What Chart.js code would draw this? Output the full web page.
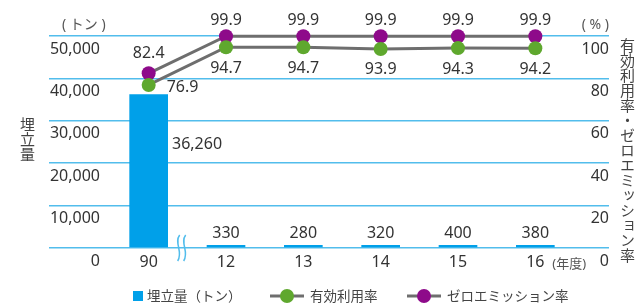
<!DOCTYPE html>
<html>
<head>
<meta charset="utf-8">
<script src="https://cdn.jsdelivr.net/npm/chart.js@4/dist/chart.umd.min.js"></script>
<style>
body { margin: 0; background: #fff; }
#wrap { position: relative; width: 637px; height: 307px; }
.vt { position: absolute; writing-mode: vertical-rl; font-family: "Noto Sans CJK JP"; font-size: 15px; line-height: 1; color: #444; }
</style>
</head>
<body>
<div id="wrap">
    <canvas id="chart" width="637" height="307"></canvas>
    <div class="vt" style="left:20px; top:117px;">埋立量</div>
    <div class="vt" style="left:620px; top:38px;">有効利用率・ゼロエミッション率</div>
</div>
<script>
var years = ['90', '12', '13', '14', '15', '16'];
var landfill = [36260, 330, 280, 320, 400, 380];
var effectiveRate = [76.9, 94.7, 94.7, 93.9, 94.3, 94.2];
var zeroEmission = [82.4, 99.9, 99.9, 99.9, 99.9, 99.9];
var tonTicks = [0, 10000, 20000, 30000, 40000, 50000];
var rateTicks = [0, 20, 40, 60, 80, 100];

var FONT = '"Noto Sans", "Noto Sans CJK JP", sans-serif';
var gridColor = '#52BDEC';
var barColor = '#00A0E9';
var lineColor = '#6E6E6E';
var greenColor = '#5FA82E';
var purpleColor = '#8E0A8A';

Chart.defaults.font.family = FONT;

// value labels next to bars and points
var valueLabels = {
    id: 'valueLabels',
    afterDatasetsDraw: function (chart) {
        var ctx = chart.ctx;
        ctx.save();
        ctx.font = '16px ' + FONT;
        ctx.fillStyle = '#333';
        ctx.textBaseline = 'middle';
        chart.getDatasetMeta(0).data.forEach(function (bar, i) {
            var txt = landfill[i].toLocaleString('en-US');
            if (i === 0) {
                ctx.textAlign = 'left';
                ctx.fillText(txt, bar.x + bar.width / 2 + 4, bar.y + 50);
            } else {
                ctx.textAlign = 'center';
                ctx.fillText(txt, bar.x, bar.y - 12);
            }
        });
        chart.getDatasetMeta(2).data.forEach(function (pt, i) {
            ctx.textAlign = 'center';
            ctx.fillText(zeroEmission[i].toFixed(1), pt.x, pt.y - (i === 0 ? 20 : 16));
        });
        chart.getDatasetMeta(1).data.forEach(function (pt, i) {
            if (i === 0) {
                ctx.textAlign = 'left';
                ctx.fillText(effectiveRate[i].toFixed(1), pt.x + 18, pt.y + 2);
            } else {
                ctx.textAlign = 'center';
                ctx.fillText(effectiveRate[i].toFixed(1), pt.x, pt.y + 21);
            }
        });
        ctx.restore();
    }
};

// units, break mark and legend
var extras = {
    id: 'extras',
    afterDraw: function (chart) {
        var ctx = chart.ctx;
        var xs = chart.scales.x;
        ctx.save();

        ctx.fillStyle = '#555';
        ctx.font = '14px ' + FONT;
        ctx.textBaseline = 'middle';
        ctx.textAlign = 'left';
        ctx.fillText('( トン )', 62, 25);
        ctx.textAlign = 'right';
        ctx.fillText('( % )', 609, 25);
        ctx.font = '13px ' + FONT;
        ctx.textAlign = 'left';
        ctx.fillText('(年度)', xs.getPixelForValue(5) + 17, 264);

        // break mark between 90 and 12
        var bx = xs.getPixelForValue(0) + 30;
        ctx.strokeStyle = gridColor;
        ctx.lineWidth = 1.5;
        [0, 6].forEach(function (dx) {
            ctx.beginPath();
            ctx.moveTo(bx + dx + 1, 235);
            ctx.bezierCurveTo(bx + dx - 5, 243, bx + dx + 5, 252, bx + dx - 1, 261);
            ctx.stroke();
        });

        // legend
        var ly = 296;
        ctx.font = '13.5px "Noto Sans CJK JP", sans-serif';
        ctx.textAlign = 'left';
        ctx.fillStyle = barColor;
        ctx.fillRect(133, ly - 5, 10, 10);
        ctx.fillStyle = '#444';
        ctx.fillText(chart.data.datasets[0].label, 147, ly);

        [[1, 270, greenColor], [2, 407, purpleColor]].forEach(function (it) {
            var x = it[1];
            ctx.strokeStyle = lineColor;
            ctx.lineWidth = 3;
            ctx.beginPath();
            ctx.moveTo(x, ly);
            ctx.lineTo(x + 34, ly);
            ctx.stroke();
            ctx.fillStyle = it[2];
            ctx.beginPath();
            ctx.arc(x + 17, ly, 7, 0, Math.PI * 2);
            ctx.fill();
            ctx.fillStyle = '#444';
            ctx.fillText(chart.data.datasets[it[0]].label, x + 40, ly);
        });
        ctx.restore();
    }
};

new Chart(document.getElementById('chart'), {
    type: 'bar',
    data: {
        labels: years,
        datasets: [
            {
                label: '埋立量（トン）',
                data: landfill,
                backgroundColor: barColor,
                yAxisID: 'y',
                categoryPercentage: 1,
                barPercentage: 0.5,
                minBarLength: 3,
                order: 3
            },
            {
                type: 'line',
                label: '有効利用率',
                data: effectiveRate,
                yAxisID: 'y1',
                borderColor: lineColor,
                borderWidth: 3,
                pointRadius: 7,
                pointBorderWidth: 0,
                pointBackgroundColor: greenColor,
                clip: false,
                order: 1
            },
            {
                type: 'line',
                label: 'ゼロエミッション率',
                data: zeroEmission,
                yAxisID: 'y1',
                borderColor: lineColor,
                borderWidth: 3,
                pointRadius: 7,
                pointBorderWidth: 0,
                pointBackgroundColor: purpleColor,
                clip: false,
                order: 2
            }
        ]
    },
    options: {
        responsive: false,
        animation: false,
        layout: { padding: { left: 49, right: 28, top: 36, bottom: 0 } },
        plugins: {
            legend: { display: false },
            tooltip: { enabled: false }
        },
        scales: {
            x: {
                grid: { display: false, drawTicks: false },
                border: { display: false },
                ticks: { color: '#333', font: { size: 16 }, padding: 5 },
                afterFit: function (s) { s.height = 59; }
            },
            y: {
                position: 'left',
                min: 0,
                max: 50000,
                afterBuildTicks: function (s) {
                    s.ticks = tonTicks.map(function (v) { return { value: v }; });
                },
                grid: { color: gridColor, lineWidth: 1.5, tickLength: 61 },
                border: { display: false },
                ticks: {
                    color: '#333',
                    font: { size: 16 },
                    padding: -51,
                    crossAlign: 'near',
                    labelOffset: 13,
                    callback: function (v) { return v.toLocaleString('en-US'); }
                },
                afterFit: function (s) { s.width = 61; }
            },
            y1: {
                position: 'right',
                min: 0,
                max: 100,
                afterBuildTicks: function (s) {
                    s.ticks = rateTicks.map(function (v) { return { value: v }; });
                },
                grid: { color: gridColor, lineWidth: 1.5, tickLength: 35, drawOnChartArea: false },
                border: { display: false },
                ticks: {
                    color: '#333',
                    font: { size: 16 },
                    crossAlign: 'far',
                    labelOffset: 13
                },
                afterFit: function (s) { s.width = 35; }
            }
        }
    },
    plugins: [valueLabels, extras]
});
</script>
</body>
</html>
